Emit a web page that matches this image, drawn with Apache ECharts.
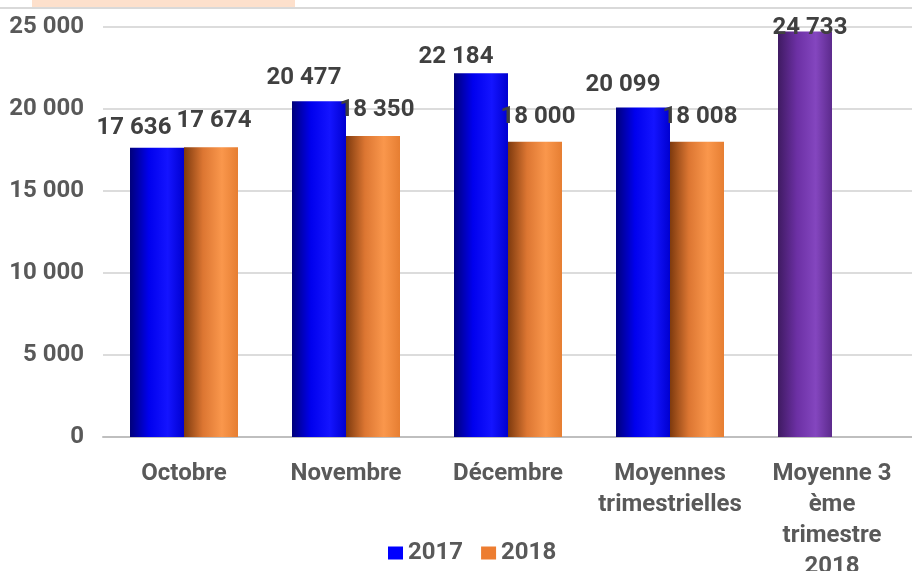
<!DOCTYPE html>
<html>
<head>
<meta charset="utf-8">
<script src="https://cdn.jsdelivr.net/npm/echarts@6/dist/echarts.min.js"></script>
<style>
  html, body { margin: 0; padding: 0; background: #fff; }
  #chart { width: 912px; height: 571px; }
</style>
</head>
<body>
<div id="chart"></div>
<script>
// données
const categories = ['Octobre', 'Novembre', 'Décembre', 'Moyennes\ntrimestrielles', 'Moyenne 3\nème\ntrimestre\n2018']
const values2017 = [17636, 20477, 22184, 20099, 24733]
const values2018 = [17674, 18350, 18000, 18008, null]
const yTicks = [0, 5000, 10000, 15000, 20000, 25000]

// décalage des étiquettes (placées à la main dans l'original)
const shift2017 = [[-23, 0], [-15, -3], [-25, 4], [-20, -2], [5, 17]]
const shift2018 = [[3, -6], [4, -6], [3, -5], [3, -5], [0, 0]]

const fmt = v => String(v).replace(/\B(?=(\d{3})+(?!\d))/g, ' ')
const grad = (c0, c1, c2, c3) => new echarts.graphic.LinearGradient(0, 0, 1, 0, [
    { offset: 0, color: c0 },
    { offset: 0.35, color: c1 },
    { offset: 0.7, color: c2 },
    { offset: 1, color: c3 }
])
const blue = grad('#00007a', '#0000ee', '#1414ff', '#0000d0')
const orange = grad('#7e3a0e', '#dc7632', '#fa974c', '#e67e32')
const purple = grad('#3f1a62', '#6c30a4', '#8446bf', '#5c2a8c')

const FONT = 'Roboto'
const labelBase = {
    show: true,
    position: 'top',
    distance: 8,
    fontFamily: FONT,
    fontWeight: 'bold',
    fontSize: 24,
    color: '#404040',
    formatter: p => fmt(p.value)
}

const chart = echarts.init(document.getElementById('chart'))
chart.setOption({
    animation: false,
    backgroundColor: '#fff',
    graphic: [
        { type: 'rect', shape: { x: 32, y: 0, width: 263, height: 7 }, style: { fill: '#fde0cc' } },
        { type: 'line', shape: { x1: 0, y1: 8, x2: 912, y2: 8 }, style: { stroke: '#d9d9d9', lineWidth: 2 } }
    ],
    grid: {
        left: 103,
        right: -1,
        top: 27,
        bottom: 134,
        containLabel: false,
        outerBoundsMode: 'none'
    },
    legend: {
        left: 383,
        top: 536,
        itemWidth: 15,
        itemHeight: 13,
        itemGap: 18,
        textStyle: { fontFamily: FONT, fontWeight: 'bold', fontSize: 24, color: '#595959' },
        data: [
            { name: '2017', icon: 'rect', itemStyle: { color: '#0000ff' } },
            { name: '2018', icon: 'rect', itemStyle: { color: '#ed7d31' } }
        ]
    },
    xAxis: {
        type: 'category',
        data: categories,
        axisTick: { show: false },
        axisLine: { lineStyle: { color: '#bfbfbf', width: 2 } },
        axisLabel: {
            interval: 0,
            margin: 21,
            fontFamily: FONT,
            fontWeight: 'bold',
            fontSize: 24,
            lineHeight: 31,
            color: '#595959'
        }
    },
    yAxis: {
        type: 'value',
        min: yTicks[0],
        max: yTicks[yTicks.length - 1],
        interval: yTicks[1] - yTicks[0],
        axisLine: { show: false },
        axisTick: { show: false },
        splitLine: { lineStyle: { color: '#dcdcdc', width: 2 } },
        axisLabel: {
            margin: 19,
            fontFamily: FONT,
            fontWeight: 'bold',
            fontSize: 24,
            color: '#595959',
            formatter: v => fmt(v)
        }
    },
    series: [
        {
            name: '2017',
            type: 'bar',
            barWidth: 54,
            barGap: '0%',
            itemStyle: { color: blue },
            label: labelBase,
            data: values2017.map((v, i) => ({
                value: v,
                itemStyle: i === 4 ? { color: purple } : undefined,
                label: { offset: shift2017[i] }
            }))
        },
        {
            name: '2018',
            type: 'bar',
            barWidth: 54,
            barGap: '0%',
            itemStyle: { color: orange },
            label: labelBase,
            data: values2018.map((v, i) => ({
                value: v === null ? '-' : v,
                label: { offset: shift2018[i] }
            }))
        }
    ]
})
</script>
</body>
</html>
